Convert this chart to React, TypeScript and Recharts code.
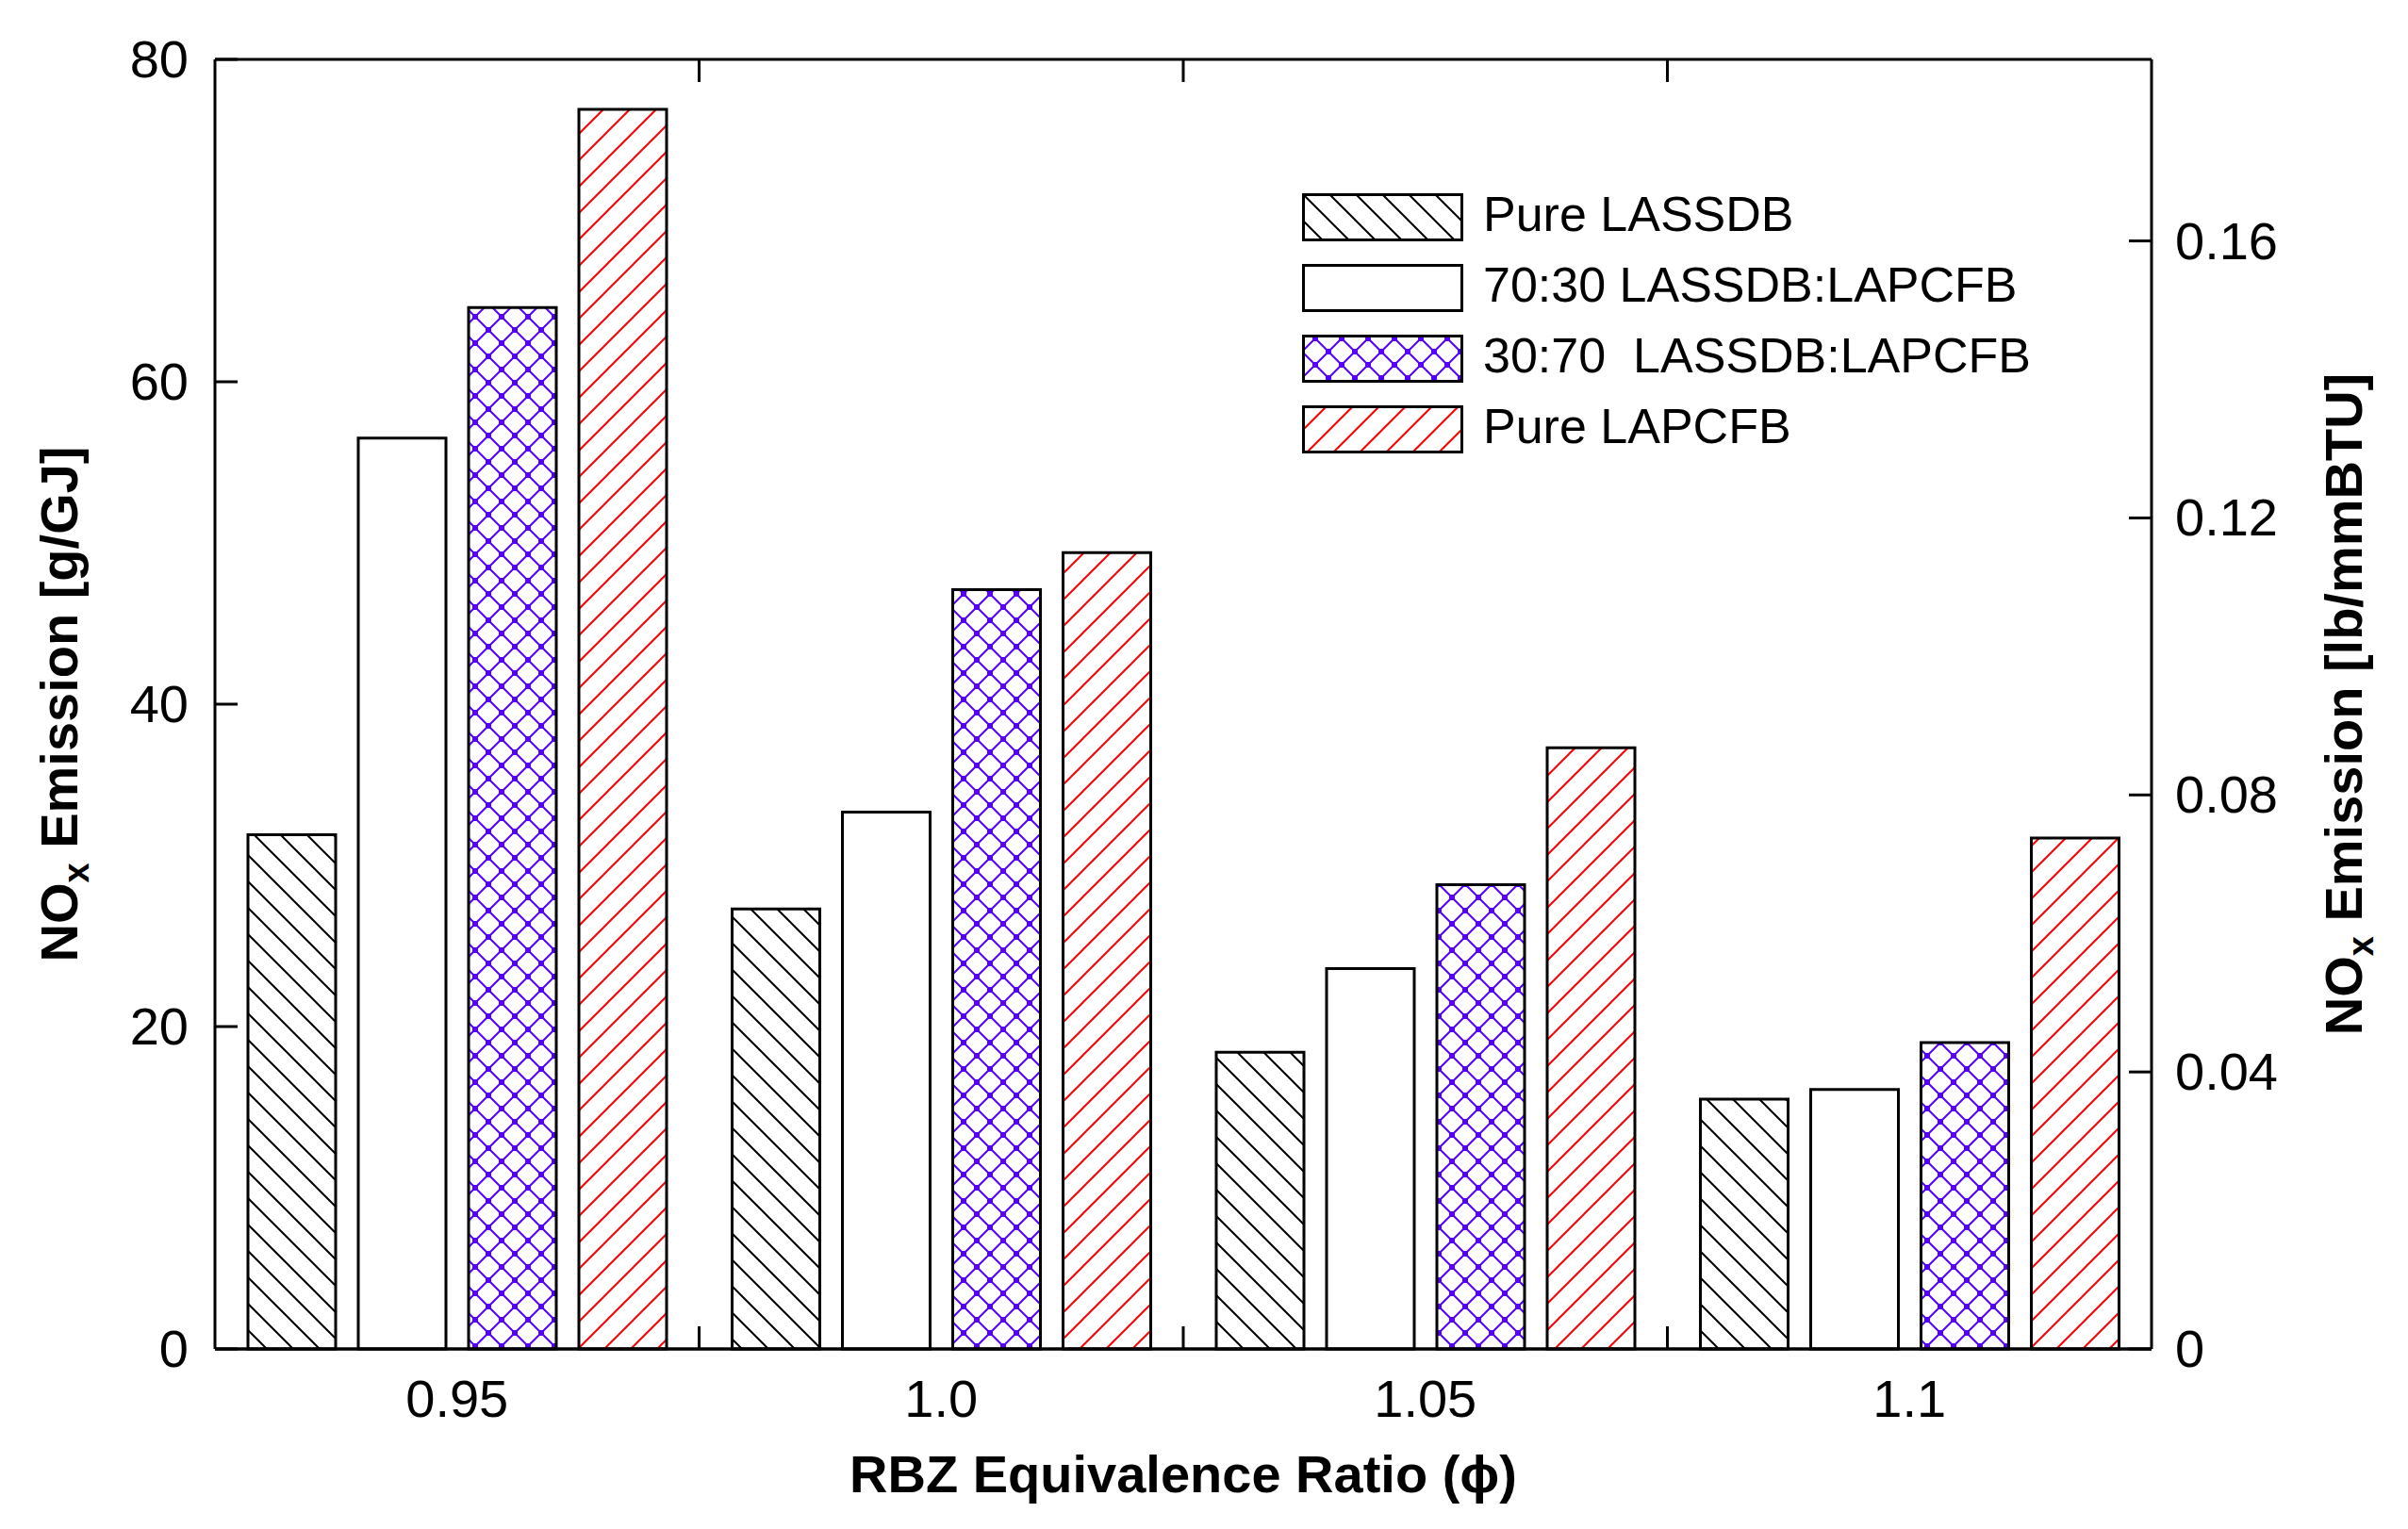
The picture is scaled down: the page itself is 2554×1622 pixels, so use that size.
import { Bar, BarChart, Legend, ReferenceLine, XAxis, YAxis } from "recharts";

// Values (g/GJ); right axis is the same scale in lb/mmBTU.
const categories = ["0.95", "1.0", "1.05", "1.1"];
const pureLassdb = [31.9, 27.3, 18.4, 15.5];
const blend7030 = [56.5, 33.3, 23.6, 16.1];
const blend3070 = [64.6, 47.1, 28.8, 19.0];
const pureLapcfb = [76.9, 49.4, 37.3, 31.7];
const seriesKeys = ["lassdb", "b7030", "b3070", "lapcfb"];
const seriesNames = [
  "Pure LASSDB",
  "70:30 LASSDB:LAPCFB",
  "30:70  LASSDB:LAPCFB",
  "Pure LAPCFB",
];
const seriesFills = ["url(#hatchBlack)", "#ffffff", "url(#crossBlue)", "url(#hatchRed)"];
const leftTicks = [0, 20, 40, 60, 80];
const rightTicks = [0, 0.04, 0.08, 0.12, 0.16];
const rightMax = 80 * 0.0023277;

const data = categories.map((phi, i) => ({
  phi,
  lassdb: pureLassdb[i],
  b7030: blend7030[i],
  b3070: blend3070[i],
  lapcfb: pureLapcfb[i],
}));

const W = 2554;
const H = 1622;
const LEFT_W = 228;
const RIGHT_W = 272;
const TOP = 63;
const X_AXIS_H = 191;
const PLOT_W = W - LEFT_W - RIGHT_W;
const BAND = PLOT_W / categories.length;
const FONT = "'Liberation Sans', Arial, sans-serif";
const TICK = 24;

function XTick(props: any) {
  const { x, y, payload, index } = props;
  const last = index === categories.length - 1;
  const bx = x + BAND / 2;
  return (
    <g>
      <text x={x} y={y + 72} textAnchor="middle" fontFamily={FONT} fontSize={56} fill="#000">
        {payload.value}
      </text>
      {!last && (
        <>
          <line x1={bx} x2={bx} y1={y} y2={y - TICK} stroke="#000" strokeWidth={3} />
          <line x1={bx} x2={bx} y1={TOP} y2={TOP + TICK} stroke="#000" strokeWidth={3} />
        </>
      )}
    </g>
  );
}

function LeftTick(props: any) {
  const { x, y, payload } = props;
  return (
    <g>
      <line x1={x} x2={x + TICK} y1={y} y2={y} stroke="#000" strokeWidth={3} />
      <text x={x - 28} y={y + 19} textAnchor="end" fontFamily={FONT} fontSize={56} fill="#000">
        {payload.value}
      </text>
    </g>
  );
}

function RightTick(props: any) {
  const { x, y, payload } = props;
  return (
    <g>
      <line x1={x} x2={x - TICK} y1={y} y2={y} stroke="#000" strokeWidth={3} />
      <text x={x + 25} y={y + 19} textAnchor="start" fontFamily={FONT} fontSize={56} fill="#000">
        {payload.value}
      </text>
    </g>
  );
}

function XTitle(props: any) {
  const vb = props.viewBox || { x: LEFT_W, y: H - X_AXIS_H, width: PLOT_W };
  return (
    <text
      x={vb.x + vb.width / 2}
      y={vb.y + 152}
      textAnchor="middle"
      fontFamily={FONT}
      fontWeight="bold"
      fontSize={56}
      fill="#000"
    >
      RBZ Equivalence Ratio (ϕ)
    </text>
  );
}

function YTitle({ viewBox, cx, unit }: any) {
  const vb = viewBox || { x: 0, y: TOP, height: H - TOP - X_AXIS_H };
  const x = vb.x + cx;
  const y = vb.y + vb.height / 2;
  return (
    <text
      x={x}
      y={y}
      dy="0.35em"
      transform={`rotate(-90 ${x} ${y})`}
      textAnchor="middle"
      fontFamily={FONT}
      fontWeight="bold"
      fontSize={56}
      fill="#000"
    >
      NO
      <tspan dy={12} fontSize={38}>x</tspan>
      <tspan dy={-12}>{` Emission [${unit}]`}</tspan>
    </text>
  );
}

function PatternLegend() {
  return (
    <svg width={1000} height={320} style={{ display: "block", overflow: "visible" }}>
      {seriesNames.map((name, i) => (
        <g key={name}>
          <rect
            x={1.5}
            y={i * 75 + 1.5}
            width={168}
            height={48}
            fill={seriesFills[i]}
            stroke="#000"
            strokeWidth={3}
          />
          <text
            x={192}
            y={i * 75 + 40}
            fontFamily={FONT}
            fontSize={52}
            fill="#000"
            style={{ whiteSpace: "pre" }}
          >
            {name}
          </text>
        </g>
      ))}
    </svg>
  );
}

export default function App() {
  return (
    <div style={{ position: "absolute", left: 0, top: 0, background: "#fff" }}>
      <BarChart
        width={W}
        height={H}
        data={data}
        margin={{ top: TOP, right: 0, bottom: 0, left: 0 }}
        barSize={93}
        barGap={24}
      >
        <defs>
          <pattern id="hatchBlack" patternUnits="userSpaceOnUse" width={28} height={28}>
            <rect width={28} height={28} fill="#fff" />
            <path d="M0,0 L28,28 M-4,24 L4,32 M24,-4 L32,4" stroke="#000" strokeWidth={2} />
          </pattern>
          <pattern id="hatchRed" patternUnits="userSpaceOnUse" width={28} height={28}>
            <rect width={28} height={28} fill="#fff" />
            <path d="M0,28 L28,0 M-4,4 L4,-4 M24,32 L32,24" stroke="#ff0000" strokeWidth={2} />
          </pattern>
          <pattern id="crossBlue" patternUnits="userSpaceOnUse" width={28} height={28}>
            <rect width={28} height={28} fill="#fff" />
            <path d="M0,0 L28,28 M28,0 L0,28" stroke="#5500ff" strokeWidth={2} />
            <rect x={11} y={11} width={6} height={6} fill="#5500ff" />
            <rect x={-3} y={-3} width={6} height={6} fill="#5500ff" />
            <rect x={25} y={-3} width={6} height={6} fill="#5500ff" />
            <rect x={-3} y={25} width={6} height={6} fill="#5500ff" />
            <rect x={25} y={25} width={6} height={6} fill="#5500ff" />
          </pattern>
        </defs>
        <XAxis
          dataKey="phi"
          height={X_AXIS_H}
          interval={0}
          tickLine={false}
          tickSize={0}
          tickMargin={0}
          axisLine={{ stroke: "#000", strokeWidth: 3.5 }}
          tick={<XTick />}
          label={<XTitle />}
        />
        <YAxis
          yAxisId="left"
          width={LEFT_W}
          domain={[0, 80]}
          ticks={leftTicks}
          interval={0}
          tickLine={false}
          tickSize={0}
          tickMargin={0}
          axisLine={{ stroke: "#000", strokeWidth: 3 }}
          tick={<LeftTick />}
          label={<YTitle cx={62} unit="g/GJ" />}
        />
        <YAxis
          yAxisId="right"
          orientation="right"
          width={RIGHT_W}
          domain={[0, rightMax]}
          allowDataOverflow
          ticks={rightTicks}
          interval={0}
          tickLine={false}
          tickSize={0}
          tickMargin={0}
          axisLine={{ stroke: "#000", strokeWidth: 3 }}
          tick={<RightTick />}
          label={<YTitle cx={203} unit="lb/mmBTU" />}
        />
        <ReferenceLine yAxisId="left" y={80} stroke="#000" strokeWidth={3} />
        {seriesKeys.map((k, i) => (
          <Bar
            key={k}
            dataKey={k}
            name={seriesNames[i]}
            yAxisId="left"
            fill={seriesFills[i]}
            stroke="#000"
            strokeWidth={3}
            isAnimationActive={false}
          />
        ))}
        <Legend
          layout="vertical"
          align="center"
          verticalAlign="middle"
          content={<PatternLegend />}
          wrapperStyle={{ top: 205, left: 1381, width: 1000, height: 320 }}
        />
      </BarChart>
    </div>
  );
}
